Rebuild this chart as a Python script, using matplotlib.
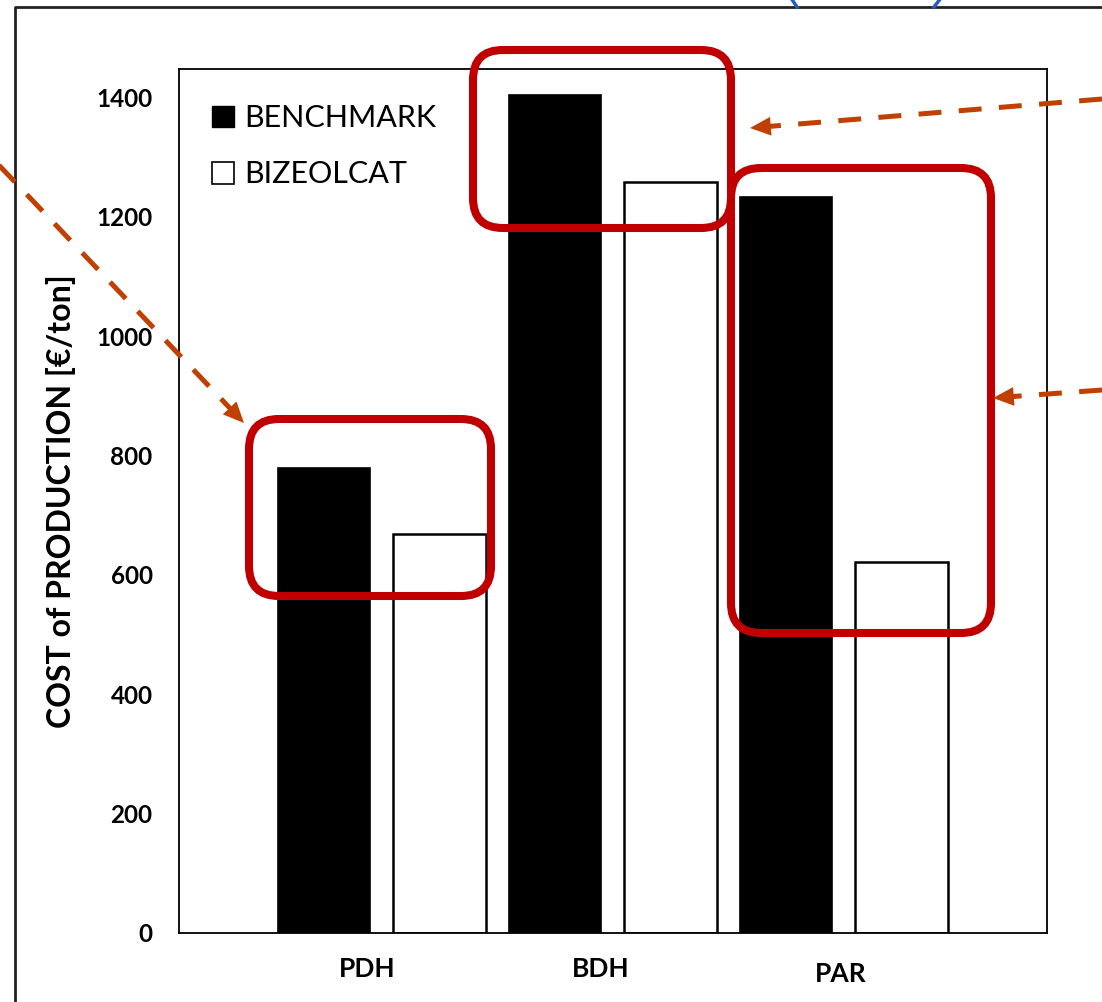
import numpy as np
import matplotlib.pyplot as plt
from matplotlib.patches import Patch, FancyBboxPatch, FancyArrowPatch
from matplotlib.transforms import ScaledTranslation

plt.rcParams['font.family'] = ['Lato', 'DejaVu Sans']
plt.rcParams['lines.scale_dashes'] = False

# Production cost per process, EUR per ton
processes = ['PDH', 'BDH', 'PAR']
benchmark = [780, 1404, 1233]
bizeolcat = [668, 1258, 621]

RED = '#C00000'
ORANGE = '#BF4000'
BLUE = '#1F5FBF'

fig = plt.figure(figsize=(11.02, 10.02), dpi=100)
ax = fig.add_axes([179 / 1102, 1 - 933 / 1002, 868 / 1102, 864 / 1002])

x = np.arange(len(processes))
w = 0.4
ax.bar(x - 0.25, benchmark, w, color='black', edgecolor='black', linewidth=1.2,
       label='BENCHMARK')
ax.bar(x + 0.25, bizeolcat, w, color='white', edgecolor='black', linewidth=1.8,
       label='BIZEOLCAT')

ax.set_xlim(-0.877, 2.88)
ax.set_ylim(0, 1448)
ax.set_yticks(range(0, 1401, 200))
ax.set_xticks(x)
ax.set_xticklabels(processes, fontsize=19, fontweight='bold')
ax.tick_params(length=0)
ax.tick_params(axis='y', labelsize=17.5, pad=19)
for lbl in ax.get_yticklabels():
    lbl.set_fontweight('bold')
ax.tick_params(axis='x', pad=17)
# nudge category labels like the original layout
offsets = {'PDH': (-14, 0), 'BDH': (-12, 0), 'PAR': (-3, -5)}
for lbl in ax.get_xticklabels():
    dx, dy = offsets[lbl.get_text()]
    lbl.set_transform(lbl.get_transform() + ScaledTranslation(dx / 100, dy / 100, fig.dpi_scale_trans))
for s in ax.spines.values():
    s.set_linewidth(1.3)

ax.set_ylabel('COST of PRODUCTION [€/ton]', fontsize=23, fontweight='bold', labelpad=15)

handles = [Patch(facecolor='black', edgecolor='black'),
           Patch(facecolor='white', edgecolor='black', linewidth=1.2)]
ax.legend(handles, ['BENCHMARK', 'BIZEOLCAT'], loc='upper left',
          bbox_to_anchor=(0.013, 0.984), frameon=False, fontsize=22,
          handlelength=0.72, handleheight=0.72, handletextpad=0.33,
          labelspacing=0.92, borderaxespad=0.3)

# overlay in pixel space for the annotations
ov = fig.add_axes([0, 0, 1, 1], zorder=10)
ov.set_xlim(0, 1102)
ov.set_ylim(1002, 0)
ov.axis('off')
ov.patch.set_alpha(0)

# outer frame
ov.plot([15, 15, 1102], [1002, 7, 7], color='#222222', lw=2.0, solid_capstyle='butt')
# partial blue outline at the top
ov.plot([791, 797], [-2, 7], color=BLUE, lw=2.5)
ov.plot([941, 934], [-2, 7], color=BLUE, lw=2.5)

# highlight boxes
boxes = [(249, 419, 491, 596), (473, 50, 731, 228), (731, 168, 991, 633)]
for x0, y0, x1, y1 in boxes:
    ov.add_patch(FancyBboxPatch((x0, y0), x1 - x0, y1 - y0,
                                boxstyle='round,pad=0,rounding_size=30',
                                fill=False, edgecolor=RED, linewidth=5.8))

# dashed arrows (start, tip)
arrows = [((-6, 160), (244, 423)), ((1102, 99), (750, 128)), ((1102, 390), (993, 398))]
for (sx, sy), (tx, ty) in arrows:
    d = np.array([tx - sx, ty - sy], float)
    d /= np.hypot(*d)
    bx, by = tx - d[0] * 20, ty - d[1] * 20
    ov.plot([sx, bx], [sy, by], color=ORANGE, lw=3.6, dashes=(16.5, 12.5),
            solid_capstyle='butt', dash_capstyle='butt')
    ov.add_patch(FancyArrowPatch((tx - d[0] * 24, ty - d[1] * 24), (tx, ty),
                                 arrowstyle='-|>,head_length=1.0,head_width=0.45',
                                 mutation_scale=15, color=ORANGE, lw=0,
                                 shrinkA=0, shrinkB=0))

fig.savefig('out.png', dpi=100)
